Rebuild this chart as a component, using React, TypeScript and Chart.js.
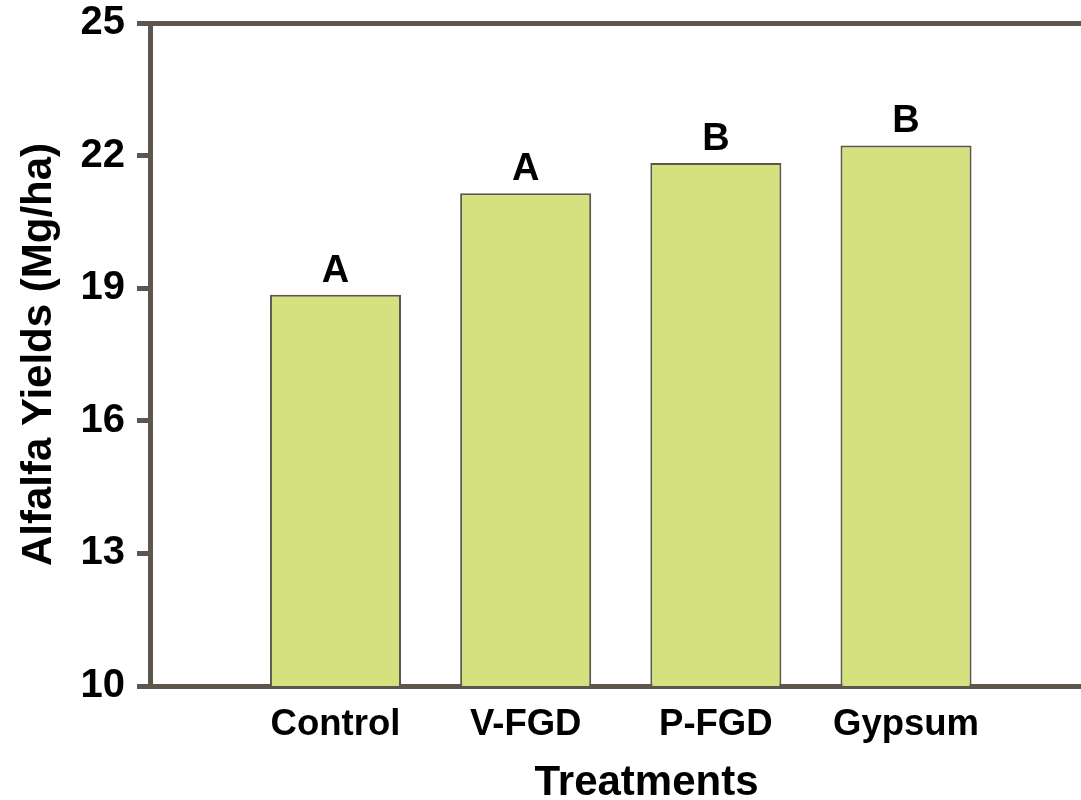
import { useEffect, useRef } from "react";
import { Chart, registerables } from "chart.js";

Chart.register(...registerables);

// Treatments and mean alfalfa yields (Mg/ha)
const treatments = ["Control", "V-FGD", "P-FGD", "Gypsum"];
const positions = [1, 2, 3, 4];
const yields = [18.85, 21.15, 21.83, 22.23];
// Mean separation letters above each bar
const groupLetters = ["A", "A", "B", "B"];
const yTicks = [10, 13, 16, 19, 22, 25];

const AXIS = "#5e554c";
const BAR_FILL = "#d4e17f";
const FONT = "'Liberation Sans', Arial, Helvetica, sans-serif";

// The plot runs a little past the visible right edge, so the canvas is wider
// than the frame that shows it.
const FRAME_W = 1081;
const CANVAS_W = 1143;
const CANVAS_H = 800;

const letterPlugin = {
  id: "groupLetters",
  afterDatasetsDraw(chart: any) {
    const meta = chart.getDatasetMeta(0);
    const ctx = chart.ctx;
    ctx.save();
    ctx.font = `bold 38px ${FONT}`;
    ctx.fillStyle = "#000";
    ctx.textAlign = "center";
    ctx.textBaseline = "alphabetic";
    meta.data.forEach((bar: any, i: number) => {
      ctx.fillText(groupLetters[i], bar.x, bar.y - 13);
    });
    ctx.restore();
  },
};

export default function App() {
  const canvasRef = useRef<HTMLCanvasElement | null>(null);

  useEffect(() => {
    if (!canvasRef.current) return;
    const chart = new Chart(canvasRef.current, {
      type: "bar",
      data: {
        datasets: [
          {
            data: positions.map((x, i) => ({ x, y: yields[i] })),
            backgroundColor: BAR_FILL,
            borderColor: AXIS,
            borderWidth: 2,
            borderSkipped: "start",
            barPercentage: 0.689,
            categoryPercentage: 1,
          } as any,
        ],
      },
      options: {
        animation: false,
        responsive: false,
        devicePixelRatio: 1,
        layout: { padding: { top: 23, right: 0, left: 0, bottom: 0 } },
        plugins: {
          legend: { display: false },
          tooltip: { enabled: false },
        },
        scales: {
          x: {
            type: "linear",
            min: 0.0247,
            max: 5.246,
            offset: false,
            z: 1,
            afterBuildTicks: (s: any) => {
              s.ticks = positions.map((v) => ({ value: v }));
            },
            afterFit: (s: any) => {
              s.height = 114;
              s.paddingLeft = 0;
              s.paddingRight = 0;
            },
            border: { display: true, color: AXIS, width: 5 },
            grid: { display: true, offset: false, drawOnChartArea: false, drawTicks: false },
            ticks: {
              autoSkip: false,
              maxRotation: 0,
              padding: 17,
              color: "#000",
              font: { family: FONT, size: 36.5, weight: "bold" },
              callback: (v: any) => treatments[positions.indexOf(Number(v))] ?? "",
            },
            title: {
              display: true,
              text: "Treatments",
              color: "#000",
              font: { family: FONT, size: 42, weight: "bold", lineHeight: 0.8 },
              padding: { top: 0, bottom: 0 },
            },
          },
          y: {
            min: 10,
            max: 25,
            afterBuildTicks: (s: any) => {
              s.ticks = yTicks.map((v) => ({ value: v }));
            },
            afterFit: (s: any) => {
              s.width = 150;
              s.paddingTop = 0;
              s.paddingBottom = 0;
            },
            border: { display: true, color: AXIS, width: 5 },
            grid: {
              drawOnChartArea: true,
              color: (c: any) => (c.tick && c.tick.value === 25 ? AXIS : "rgba(0,0,0,0)"),
              lineWidth: 5,
              tickColor: AXIS,
              tickLength: 13,
              tickWidth: 5,
            },
            ticks: {
              color: "#000",
              padding: 12,
              font: { family: FONT, size: 40, weight: "bold", lineHeight: 1 },
            },
            title: {
              display: true,
              text: "Alfalfa Yields (Mg/ha)",
              color: "#000",
              font: { family: FONT, size: 42, weight: "bold" },
              padding: { top: 14, bottom: 0 },
            },
          },
        },
      },
      plugins: [letterPlugin],
    });
    return () => chart.destroy();
  }, []);

  return (
    <div
      style={{
        position: "fixed",
        left: 0,
        top: 0,
        width: FRAME_W,
        height: CANVAS_H,
        overflow: "hidden",
        background: "#fff",
      }}
    >
      <canvas ref={canvasRef} width={CANVAS_W} height={CANVAS_H} style={{ display: "block" }} />
    </div>
  );
}
